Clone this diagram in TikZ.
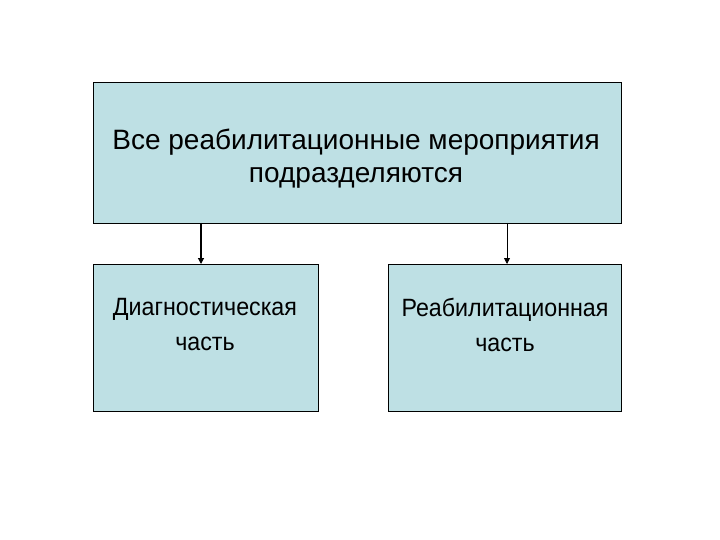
\documentclass[tikz,border=0pt]{standalone}
\usepackage{fontspec}
\setmainfont{Liberation Sans}
\usetikzlibrary{arrows.meta}
\definecolor{boxfill}{RGB}{190,224,228}
\begin{document}
\begin{tikzpicture}[x=1pt,y=-1pt,
  box/.style={draw=black,line width=0.8pt,fill=boxfill},
  lbl/.style={font=\fontsize{28}{33}\selectfont,align=center,text=black},
  sublbl/.style={font=\fontsize{25}{35}\selectfont,align=center,text=black,xscale=0.93},
  arr/.style={line width=1.2pt,-{Triangle[length=6pt,width=6pt]}}]
\useasboundingbox (0,0) rectangle (720,540);
\draw[box] (93,82) rectangle (621,223);
\node[lbl] (top) at (356,159) {Все реабилитационные мероприятия\\подразделяются};
\draw[box] (93,264) rectangle (318,411);
\node[sublbl] (left) at (205,325) {Диагностическая\\часть};
\draw[box] (388,264) rectangle (621,411);
\node[sublbl] (right) at (505,325) {Реабилитационная\\часть};
\coordinate (a1) at (201,223);
\coordinate (b1) at (201,264);
\coordinate (a2) at (507,223);
\coordinate (b2) at (507,264);
\draw[arr] (a1) -- (b1);
\draw[arr,line width=0.8pt] (a2) -- (b2);
\end{tikzpicture}
\end{document}
